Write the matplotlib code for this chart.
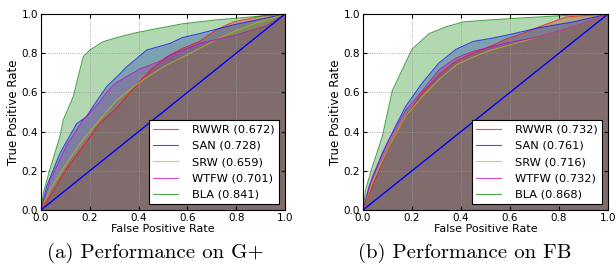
import matplotlib
matplotlib.use("Agg")
import matplotlib.pyplot as plt

methods = ["RWWR", "SAN", "SRW", "WTFW", "BLA"]
colors = ["r", "b", "y", "m", "g"]

auc_gplus = [0.672, 0.728, 0.659, 0.701, 0.841]
auc_fb = [0.732, 0.761, 0.716, 0.732, 0.868]

# G+ ROC curves (fpr, tpr)
gp_rwwr_x = [0, 0.037, 0.105, 0.173, 0.24, 0.31, 0.38, 0.45, 0.515, 0.58, 0.65, 0.72, 0.79, 0.925, 1.0]
gp_rwwr_y = [0, 0.07, 0.21, 0.325, 0.44, 0.52, 0.62, 0.715, 0.78, 0.825, 0.86, 0.92, 0.96, 0.995, 1.0]
gp_san_x = [0, 0.023, 0.078, 0.146, 0.187, 0.214, 0.269, 0.32, 0.351, 0.38, 0.433, 0.529, 0.58, 0.65, 0.79, 0.925, 1.0]
gp_san_y = [0, 0.12, 0.29, 0.44, 0.476, 0.53, 0.629, 0.69, 0.731, 0.76, 0.816, 0.85, 0.88, 0.90, 0.945, 0.98, 1.0]
gp_srw_x = [0, 0.037, 0.105, 0.173, 0.24, 0.31, 0.38, 0.45, 0.515, 0.58, 0.65, 0.72, 0.79, 0.86, 1.0]
gp_srw_y = [0, 0.105, 0.24, 0.36, 0.46, 0.56, 0.63, 0.69, 0.74, 0.78, 0.825, 0.87, 0.91, 0.945, 1.0]
gp_wtfw_x = [0, 0.037, 0.105, 0.173, 0.24, 0.269, 0.305, 0.35, 0.406, 0.49, 0.529, 0.57, 0.65, 0.79, 0.925, 1.0]
gp_wtfw_y = [0, 0.15, 0.33, 0.46, 0.55, 0.60, 0.647, 0.68, 0.72, 0.76, 0.79, 0.81, 0.85, 0.89, 0.94, 1.0]
gp_bla_x = [0, 0.01, 0.037, 0.078, 0.091, 0.132, 0.173, 0.20, 0.255, 0.324, 0.392, 0.474, 0.58, 0.72, 0.86, 1.0]
gp_bla_y = [0, 0.09, 0.21, 0.376, 0.459, 0.578, 0.782, 0.816, 0.859, 0.884, 0.905, 0.925, 0.95, 0.97, 0.985, 1.0]

# FB ROC curves
fb_rwwr_x = [0, 0.038, 0.106, 0.175, 0.243, 0.31, 0.38, 0.45, 0.52, 0.58, 0.65, 0.72, 0.83, 1.0]
fb_rwwr_y = [0, 0.12, 0.325, 0.48, 0.60, 0.69, 0.76, 0.80, 0.835, 0.87, 0.90, 0.935, 0.985, 1.0]
fb_san_x = [0, 0.025, 0.079, 0.134, 0.175, 0.243, 0.31, 0.38, 0.45, 0.52, 0.58, 0.72, 0.86, 1.0]
fb_san_y = [0, 0.12, 0.29, 0.43, 0.53, 0.65, 0.75, 0.82, 0.86, 0.875, 0.89, 0.93, 0.96, 1.0]
fb_srw_x = [0, 0.038, 0.106, 0.175, 0.243, 0.31, 0.38, 0.45, 0.52, 0.58, 0.72, 0.86, 1.0]
fb_srw_y = [0, 0.14, 0.325, 0.48, 0.58, 0.665, 0.74, 0.78, 0.815, 0.835, 0.885, 0.935, 1.0]
fb_wtfw_x = [0, 0.038, 0.106, 0.175, 0.243, 0.31, 0.38, 0.45, 0.58, 0.72, 0.86, 1.0]
fb_wtfw_y = [0, 0.17, 0.36, 0.51, 0.61, 0.715, 0.775, 0.81, 0.85, 0.885, 0.935, 1.0]
fb_bla_x = [0, 0.011, 0.038, 0.079, 0.12, 0.16, 0.2, 0.27, 0.34, 0.41, 0.52, 0.65, 0.86, 1.0]
fb_bla_y = [0, 0.105, 0.22, 0.376, 0.61, 0.715, 0.82, 0.90, 0.935, 0.96, 0.97, 0.98, 0.995, 1.0]

xticks = [0.0, 0.2, 0.4, 0.6, 0.8, 1.0]

gp_curves = [(gp_rwwr_x, gp_rwwr_y), (gp_san_x, gp_san_y), (gp_srw_x, gp_srw_y),
             (gp_wtfw_x, gp_wtfw_y), (gp_bla_x, gp_bla_y)]
fb_curves = [(fb_rwwr_x, fb_rwwr_y), (fb_san_x, fb_san_y), (fb_srw_x, fb_srw_y),
             (fb_wtfw_x, fb_wtfw_y), (fb_bla_x, fb_bla_y)]

fig = plt.figure(figsize=(6.16, 2.68), dpi=100)


def draw(ax, curves, aucs):
    for (x, y), c, m, a in zip(curves, colors, methods, aucs):
        ax.fill_between(x, 0, y, color=c, alpha=0.3, linewidth=0)
        ax.plot(x, y, color=c, lw=0.8, alpha=0.7, label=f"{m} ({a:.3f})")
    ax.plot([0, 1], [0, 1], color="b", lw=1.0)
    ax.set_xlim(0, 1)
    ax.set_ylim(0, 1)
    ax.set_xticks(xticks)
    ax.set_yticks(xticks)
    ax.set_xticklabels([f"{t:.1f}" for t in xticks])
    ax.set_yticklabels([f"{t:.1f}" for t in xticks])
    ax.tick_params(direction="in", labelsize=7.5, length=3, pad=2, top=True, right=True)
    ax.grid(True, linestyle=":", color="#999999", lw=0.6)
    ax.set_xlabel("False Positive Rate", fontsize=8, labelpad=1)
    ax.set_ylabel("True Positive Rate", fontsize=8.5, labelpad=1)
    leg = ax.legend(loc="lower right", fontsize=8.2, fancybox=False, framealpha=1,
                    edgecolor="black", handlelength=2.2, borderaxespad=0.5,
                    labelspacing=0.55, handletextpad=1.2)
    leg.get_frame().set_linewidth(0.8)


ax1 = fig.add_axes([41 / 616, 58 / 268, 244 / 616, 196 / 268])
draw(ax1, gp_curves, auc_gplus)
ax2 = fig.add_axes([363 / 616, 58 / 268, 245 / 616, 196 / 268])
draw(ax2, fb_curves, auc_fb)

fig.text(0.252, 0.058, "(a) Performance on G+", ha="center", va="center",
         fontsize=15, family="cmr10")
fig.text(0.755, 0.058, "(b) Performance on FB", ha="center", va="center",
         fontsize=15, family="cmr10")

fig.savefig("out.png", dpi=100)
